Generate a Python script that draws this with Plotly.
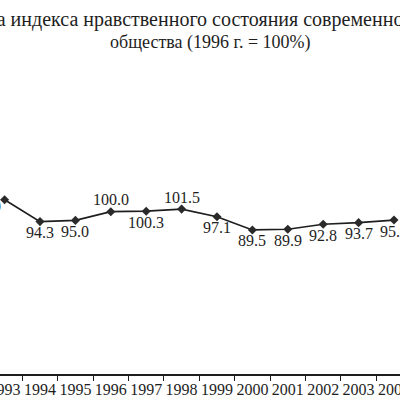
import plotly.graph_objects as go

# index of moral state, 1996 = 100%
years = ["1993", "1994", "1995", "1996", "1997", "1998", "1999",
         "2000", "2001", "2002", "2003", "2004"]
index_values = [106.9, 94.3, 95.0, 100.0, 100.3, 101.5, 97.1,
                89.5, 89.9, 92.8, 93.7, 95.2]
value_labels = ["106.9", "94.3", "95.0", "100.0", "100.3", "101.5", "97.1",
                "89.5", "89.9", "92.8", "93.7", "95.2"]
label_above = [False, False, False, True, False, True, False,
               False, False, False, False, False]

title_line1 = "Динамика индекса нравственного состояния современного российского"
title_line2 = "общества (1996 г. = 100%)"

serif = "Liberation Serif, Times New Roman, serif"
ink = "#1e1e1e"

fig = go.Figure()
fig.add_trace(go.Scatter(
    x=years, y=index_values,
    mode="lines+markers",
    line=dict(color=ink, width=1.7),
    marker=dict(symbol="diamond", size=7, color="#2a2a2a"),
    cliponaxis=False,
    showlegend=False,
))

# value labels next to each point (x given as category index)
for i, (v, lab, up) in enumerate(zip(index_values, value_labels, label_above)):
    if i == 0:
        fig.add_annotation(x=i, y=v, text=lab, showarrow=False,
                           xanchor="right", yanchor="middle", xshift=-2, yshift=-7,
                           font=dict(family=serif, size=16, color=ink))
    else:
        fig.add_annotation(x=i, y=v, text=lab, showarrow=False,
                           xanchor="center", yanchor="middle",
                           yshift=12 if up else -11,
                           font=dict(family=serif, size=16, color=ink))

fig.add_annotation(text=title_line1, xref="paper", yref="paper",
                   x=-0.205, y=0.947, xanchor="left", yanchor="middle",
                   showarrow=False, font=dict(family=serif, size=20, color=ink))
fig.add_annotation(text=title_line2, xref="paper", yref="paper",
                   x=0.525, y=0.887, xanchor="center", yanchor="middle",
                   showarrow=False, font=dict(family=serif, size=18, color=ink))

fig.update_xaxes(type="category", range=[-0.13, 11.17], automargin=False,
                 tickson="boundaries", ticks="outside", ticklen=5,
                 tickwidth=1.3, tickcolor=ink, tickangle=0,
                 showline=True, linecolor=ink, linewidth=1.5,
                 showgrid=False, zeroline=False,
                 tickfont=dict(family=serif, size=16, color=ink))
fig.update_yaxes(visible=False, range=[6.7, 221.7], showgrid=False, automargin=False)

fig.update_layout(width=400, height=400,
                  margin=dict(l=0, r=0, t=0, b=26),
                  paper_bgcolor="white", plot_bgcolor="white")

# drop the default page margin so the chart sits flush in the window
fig.write_html("out.html", config={"displayModeBar": False},
               post_script="document.body.style.margin='0';")
